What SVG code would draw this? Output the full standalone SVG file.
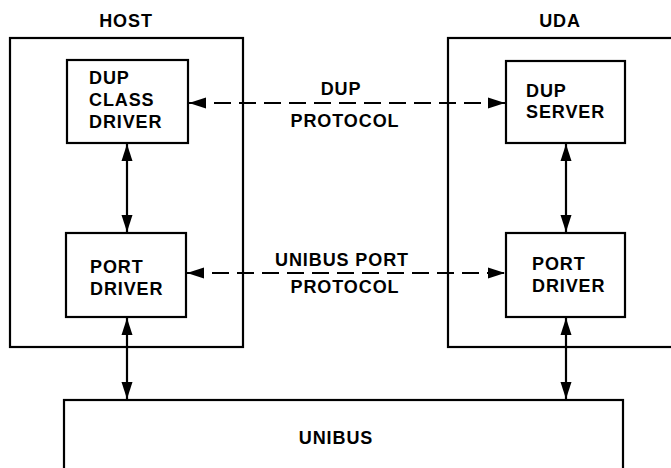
<svg xmlns="http://www.w3.org/2000/svg" width="671" height="468" viewBox="0 0 671 468">
<style>
.box{fill:none;stroke:#000;stroke-width:2.2}
.ln{fill:none;stroke:#000;stroke-width:2.2}
.dash{stroke-dasharray:17 8}
text{font-family:"Liberation Sans",Arial,sans-serif;font-weight:bold;font-size:18px;letter-spacing:0.9px;fill:#000}
.c{text-anchor:middle}
</style>
<defs>
<marker id="ah" markerUnits="userSpaceOnUse" markerWidth="18" markerHeight="12" refX="17" refY="6" orient="auto-start-reverse">
<path d="M0,0.5 L17,6 L0,11.5 z" fill="#000"/>
</marker>
</defs>
<rect width="671" height="468" fill="#fff"/>
<g id="host">
<rect class="box" x="10" y="38" width="233" height="309"/>
<text class="c" x="126" y="27">HOST</text>
</g>
<g id="uda">
<rect class="box" x="448" y="38" width="240" height="309"/>
<text class="c" x="560" y="27">UDA</text>
</g>
<g id="dup-class-driver">
<rect class="box" x="67" y="60" width="121" height="83"/>
<text x="89" y="84">DUP</text>
<text x="89" y="106">CLASS</text>
<text x="89" y="128">DRIVER</text>
</g>
<g id="host-port-driver">
<rect class="box" x="66" y="233" width="120" height="84"/>
<text x="90" y="273">PORT</text>
<text x="90" y="295">DRIVER</text>
</g>
<g id="dup-server">
<rect class="box" x="506" y="61" width="119" height="82"/>
<text x="526" y="97">DUP</text>
<text x="526" y="118">SERVER</text>
</g>
<g id="uda-port-driver">
<rect class="box" x="506" y="233" width="119" height="84"/>
<text x="532" y="270">PORT</text>
<text x="532" y="292">DRIVER</text>
</g>
<g id="unibus">
<rect class="box" x="64" y="400" width="559" height="90"/>
<text class="c" x="336" y="444">UNIBUS</text>
</g>
<g id="connectors">
<line class="ln" x1="127" y1="144" x2="127" y2="232" marker-start="url(#ah)" marker-end="url(#ah)"/>
<line class="ln" x1="127" y1="318" x2="127" y2="399" marker-start="url(#ah)" marker-end="url(#ah)"/>
<line class="ln" x1="566" y1="144" x2="566" y2="232" marker-start="url(#ah)" marker-end="url(#ah)"/>
<line class="ln" x1="566" y1="318" x2="566" y2="399" marker-start="url(#ah)" marker-end="url(#ah)"/>
<line class="ln dash" x1="189" y1="103" x2="505" y2="103" marker-start="url(#ah)" marker-end="url(#ah)"/>
<line class="ln dash" x1="187" y1="273" x2="505" y2="273" marker-start="url(#ah)" marker-end="url(#ah)"/>
<text class="c" x="341" y="95">DUP</text>
<text class="c" x="345" y="127">PROTOCOL</text>
<text class="c" x="342" y="266">UNIBUS PORT</text>
<text class="c" x="345" y="293">PROTOCOL</text>
</g>
</svg>
